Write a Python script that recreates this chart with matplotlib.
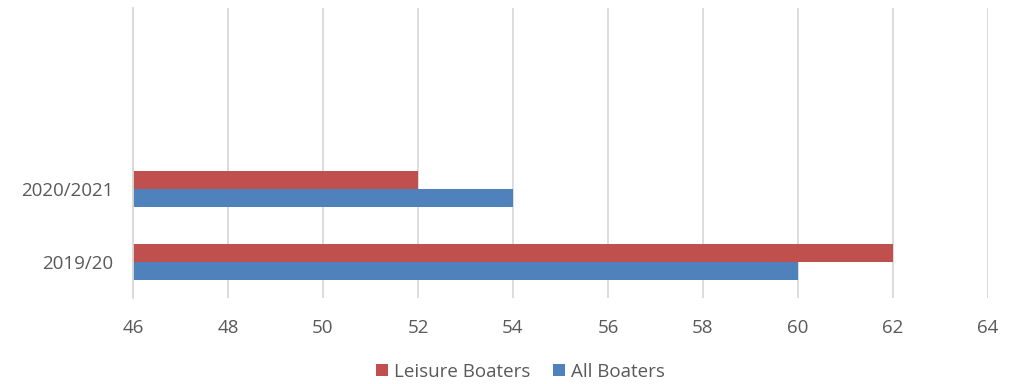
import matplotlib.pyplot as plt
import numpy as np

plt.rcParams['font.family'] = ['Open Sans', 'DejaVu Sans']

categories = ["2019/20", "2020/2021", "", ""]
leisure = [62, 52, np.nan, np.nan]
all_boaters = [60, 54, np.nan, np.nan]
xticks = [46, 48, 50, 52, 54, 56, 58, 60, 62, 64]

red = "#C0504D"
blue = "#4F81BD"
text_color = "#595959"

fig = plt.figure(figsize=(10.16, 3.84), dpi=100)
ax = fig.add_axes([0.1309, 0.224, 0.9724 - 0.1309, 0.979 - 0.224])

y = np.arange(len(categories))
h = 0.25  # bar height
ax.barh(y - h / 2, all_boaters, height=h, color=blue, label="All Boaters")
ax.barh(y + h / 2, leisure, height=h, color=red, label="Leisure Boaters")

ax.set_xlim(46, 64)
ax.set_ylim(-0.5, len(categories) - 0.5)
ax.set_xticks(xticks)
ax.set_yticks(y)
ax.set_yticklabels(categories)

ax.grid(axis="x", color="#D9D9D9", linewidth=1.3)
ax.set_axisbelow(True)
for s in ["top", "right", "bottom"]:
    ax.spines[s].set_visible(False)
ax.spines["left"].set_color("#D9D9D9")
ax.spines["left"].set_linewidth(1.3)
ax.tick_params(axis="both", length=0, colors=text_color, labelsize=13.5)
ax.tick_params(axis="x", pad=15)
ax.tick_params(axis="y", pad=14)

handles, labels = ax.get_legend_handles_labels()
fig.legend(handles[::-1], labels[::-1], loc="center", bbox_to_anchor=(0.512, 0.032),
           ncol=2, frameon=False, fontsize=13.5, labelcolor=text_color,
           handlelength=0.65, handleheight=0.65, handletextpad=0.3, columnspacing=1.2)

fig.savefig("out.png", dpi=100)
